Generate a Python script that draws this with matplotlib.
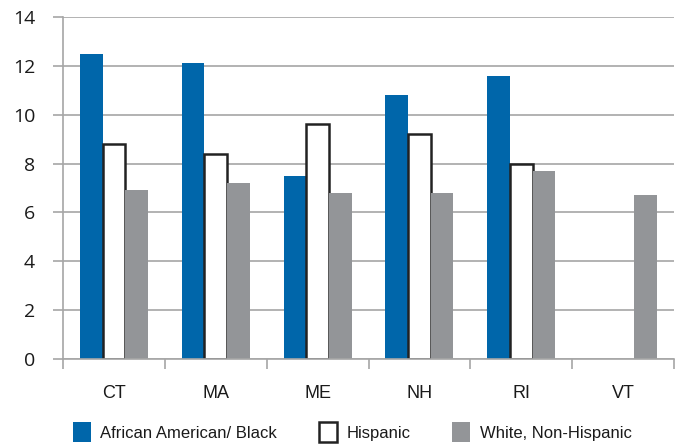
import matplotlib.pyplot as plt
import numpy as np

states = ["CT", "MA", "ME", "NH", "RI", "VT"]
african_american = [12.5, 12.1, 7.5, 10.8, 11.6, np.nan]
hispanic = [8.8, 8.4, 9.6, 9.2, 8.0, np.nan]
white_non_hispanic = [6.9, 7.2, 6.8, 6.8, 7.7, 6.7]
series_names = ["African American/ Black", "Hispanic", "White, Non-Hispanic"]
yticks = [0, 2, 4, 6, 8, 10, 12, 14]

label_font = "Liberation Sans"

fig = plt.figure(figsize=(6.81, 4.46), dpi=100)
ax = fig.add_axes([63 / 681, 1 - 359 / 446, (674 - 63) / 681, (359 - 17) / 446])

x = np.arange(len(states))
w = 0.223
blue = "#0066aa"
grey = "#939598"

ax.bar(x - w, african_american, w, color=blue, label=series_names[0])
ax.bar(x, hispanic, w, color="white", edgecolor="#222222", linewidth=1.8,
       label=series_names[1])
ax.bar(x + w, white_non_hispanic, w, color=grey, label=series_names[2])

ax.set_xlim(-0.5, len(states) - 0.5)
ax.set_ylim(0, 14)
ax.set_yticks(yticks)
ax.set_yticklabels([str(t) for t in yticks], fontsize=14, color="#1a1a1a",
                   family="Open Sans")
ax.yaxis.grid(True, color="#a6a6a6", linewidth=1.2)
ax.set_axisbelow(True)
ax.tick_params(axis="y", length=7, color="#a6a6a6", width=1.2, pad=13)

# category boundaries get the tick marks, labels sit at centres
ax.set_xticks(np.arange(len(states) + 1) - 0.5)
ax.set_xticklabels([])
ax.tick_params(axis="x", length=7, color="#a6a6a6", width=1.2)
for i, s in enumerate(states):
    ax.text(i, -1.4, s, ha="center", va="center", fontsize=13,
            family=label_font, color="#1a1a1a")

for side in ["top", "right"]:
    ax.spines[side].set_visible(False)
for side in ["left", "bottom"]:
    ax.spines[side].set_color("#a6a6a6")
    ax.spines[side].set_linewidth(1.2)

leg = fig.legend(loc="center left", bbox_to_anchor=(58 / 681, 1 - 432 / 446),
                 ncol=3, frameon=False,
                 prop={"family": label_font, "size": 12},
                 handlelength=1.1, handleheight=1.4, columnspacing=2.5,
                 handletextpad=0.55)
for t in leg.get_texts():
    t.set_color("#1a1a1a")

fig.savefig("out.png", dpi=100)
